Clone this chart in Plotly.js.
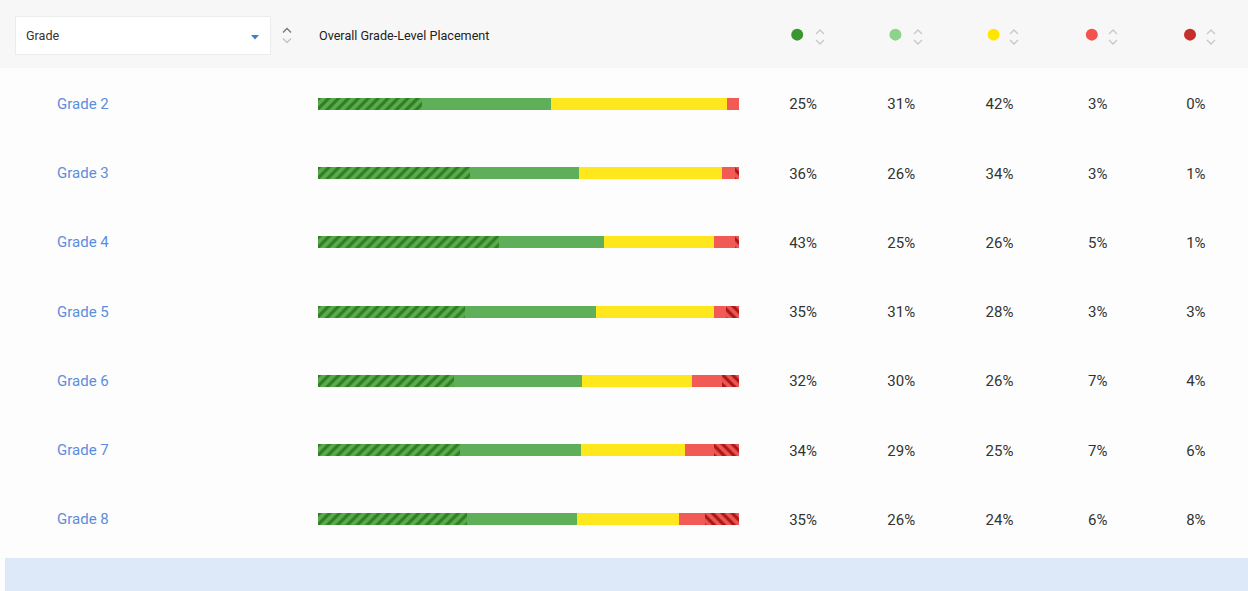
<!DOCTYPE html>
<html><head><meta charset="utf-8">
<script src="https://cdn.plot.ly/plotly-3.0.1.min.js"></script>
<style>html,body{margin:0;padding:0;background:#fdfdfd;}#chart{width:1248px;height:591px;}</style>
</head><body><div id="chart"></div>
<script>
const grades = ['Grade 2','Grade 3','Grade 4','Grade 5','Grade 6','Grade 7','Grade 8'];
const exceeding   = [25,36,43,35,32,34,35];
const meeting     = [31,26,25,31,30,29,26];
const approaching = [42,34,26,28,26,25,24];
const below       = [3,3,5,3,7,7,6];
const farBelow    = [0,1,1,3,4,6,8];
const levelNames  = ['Exceeding','Meeting','Approaching','Below','Far Below'];
const headerTitle = 'Overall Grade-Level Placement';
const dropdownLabel = 'Grade';

const W = 1248, H = 591;
const px = x => x / W;
const py = y => 1 - y / H;
const rows = grades.map((g, i) => i);
const HEADER_ROW = -1;

const series = [exceeding, meeting, approaching, below, farBelow];
const styles = [
  {color:'#55a64a', pattern:{shape:'/', fgcolor:'#2f7f22', bgcolor:'#5aaa4e', size:7, solidity:0.45}},
  {color:'#5fae59'},
  {color:'#ffe71e'},
  {color:'#f25a55'},
  {color:'#ee5550', pattern:{shape:'\\', fgcolor:'#a81818', bgcolor:'#ee5550', size:7, solidity:0.45}}
];
const iconColors = ['#3a9630','#8fd28b','#ffe600','#f4524e','#c4302b'];

const traces = series.map((vals, k) => ({
  type:'bar', orientation:'h', x: vals, y: rows, name: levelNames[k],
  width: 0.175, marker: Object.assign({line:{width:0}}, styles[k]),
  hoverinfo:'x+name', xaxis:'x', yaxis:'y'
}));

series.forEach((vals, k) => {
  traces.push({
    type:'scatter', mode:'text', x: rows.map(() => k), y: rows.map(r => r + 0.025),
    text: vals.map(v => v + '%'), textfont:{family:'Roboto, sans-serif', size:15, color:'#333'},
    xaxis:'x2', yaxis:'y', hoverinfo:'skip', cliponaxis:false
  });
});

traces.push({
  type:'scatter', mode:'markers', x: levelNames.map((n, k) => k - 0.06), y: levelNames.map(() => HEADER_ROW),
  marker:{size:12, color: iconColors, line:{width:0}},
  xaxis:'x2', yaxis:'y', hoverinfo:'skip', cliponaxis:false
});

const shapes = [
  {type:'rect', xref:'paper', yref:'paper', x0:0, x1:1, y0:py(68), y1:1, fillcolor:'#f7f7f7', line:{width:0}, layer:'below'},
  {type:'rect', xref:'paper', yref:'paper', x0:px(5), x1:1, y0:0, y1:py(558), fillcolor:'#dde9f8', line:{width:0}, layer:'below'},
  {type:'rect', xref:'paper', yref:'paper', x0:px(15), x1:px(271), y0:py(55), y1:py(16), fillcolor:'#ececec', line:{width:0}, layer:'below'},
  {type:'rect', xref:'paper', yref:'paper', x0:px(16), x1:px(270), y0:py(54), y1:py(17), fillcolor:'#ffffff', line:{width:0}, layer:'below'},
  {type:'path', xref:'paper', yref:'paper', path:`M ${px(251)} ${py(35)} L ${px(259)} ${py(35)} L ${px(255)} ${py(39.5)} Z`, fillcolor:'#3b80cc', line:{width:0}}
];
function chevrons(cx, cy, upColor, downColor) {
  shapes.push({type:'path', xref:'paper', yref:'paper',
    path:`M ${px(cx-4)} ${py(cy-3)} L ${px(cx)} ${py(cy-7)} L ${px(cx+4)} ${py(cy-3)}`, line:{color:upColor, width:1.3}});
  shapes.push({type:'path', xref:'paper', yref:'paper',
    path:`M ${px(cx-4)} ${py(cy+3)} L ${px(cx)} ${py(cy+7)} L ${px(cx+4)} ${py(cy+3)}`, line:{color:downColor, width:1.3}});
}
chevrons(287, 35.5, '#777', '#c4c4c4');
[820, 918, 1014, 1113, 1211].forEach(cx => chevrons(cx, 37, '#c8c8c8', '#c8c8c8'));

const annotations = grades.map((g, i) => ({
  text: g, xref:'paper', yref:'y', x: px(83), y: i, showarrow:false,
  font:{family:'Roboto, sans-serif', size:15, color:'#5b8ddc'}, xanchor:'center'
}));
annotations.push({text: headerTitle, xref:'paper', yref:'paper', x: px(317), y: py(36), xanchor:'left', yanchor:'middle',
  showarrow:false, font:{family:'Roboto, sans-serif', size:12.6, color:'#222'}});
annotations.push({text: dropdownLabel, xref:'paper', yref:'paper', x: px(24), y: py(35.5), xanchor:'left', yanchor:'middle',
  showarrow:false, font:{family:'Roboto, sans-serif', size:12.6, color:'#333'}});

const layout = {
  width: W, height: H, margin:{l:0, r:0, t:0, b:0},
  paper_bgcolor:'#fdfdfd', plot_bgcolor:'rgba(0,0,0,0)',
  barmode:'stack', barnorm:'percent', showlegend:false,
  xaxis:{domain:[px(318), px(739)], range:[0,100], visible:false, fixedrange:true},
  xaxis2:{domain:[px(754), px(1245)], range:[-0.5,4.5], visible:false, anchor:'y', fixedrange:true},
  yaxis:{domain:[py(554), 1], range:[6.5,-1.5], visible:false, fixedrange:true},
  shapes, annotations
};
Plotly.newPlot('chart', traces, layout, {displayModeBar:false, staticPlot:true});
</script></body></html>
